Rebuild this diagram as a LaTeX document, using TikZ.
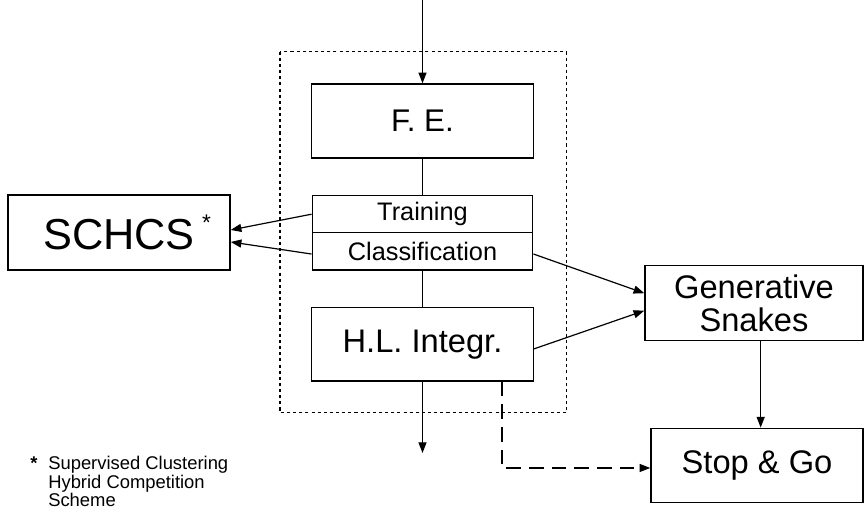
\documentclass[tikz,border=0pt]{standalone}
\usepackage{fontspec}
\setmainfont{Liberation Sans}
\usetikzlibrary{arrows.meta}
\tikzset{
  box/.style={draw, line width=1.1pt, inner sep=0pt, align=center},
  arr/.style={line width=0.9pt, -{Triangle[length=8pt,width=6pt]}},
  plain/.style={line width=0.9pt},
  dashline/.style={line width=0.9pt, dash pattern=on 11pt off 6pt, -{Triangle[length=8pt,width=6pt]}},
  dotbox/.style={line width=1.1pt, dash pattern=on 2.3pt off 2.3pt}
}
\begin{document}
\begin{tikzpicture}[x=0.75pt,y=-0.75pt]
\useasboundingbox (0,0) rectangle (864,511);
% dotted frame
\draw[dotbox] (280,51.7) rectangle (566.7,412.7);
% nodes
\node[box, minimum width=222*0.75pt, minimum height=75*0.75pt, font=\fontsize{32.5}{36}\selectfont] (schcs) at (119,232.5) {\hspace*{12pt}SCHCS\,\raisebox{0.43em}{\fontsize{17}{17}\selectfont *}};
\node[box, minimum width=221.6*0.75pt, minimum height=74*0.75pt, font=\fontsize{23.5}{27}\selectfont] (fe) at (422.5,121) {F. E.};
\node[box, minimum width=220.5*0.75pt, minimum height=37*0.75pt, font=\fontsize{19}{22}\selectfont] (tr) at (422.5,214.2) {Training};
\node[box, minimum width=220.5*0.75pt, minimum height=37.3*0.75pt, font=\fontsize{19}{22}\selectfont] (cl) at (422.5,251.35) {Classification};
\node[box, minimum width=221.6*0.75pt, minimum height=73.7*0.75pt, font=\fontsize{24.5}{28}\selectfont] (hl) at (422.5,344.2) {H.L. Integr.};
\node[box, minimum width=218*0.75pt, minimum height=75*0.75pt, font=\fontsize{24.5}{25}\selectfont] (gs) at (754,303.2) {Generative\\Snakes};
\node[box, minimum width=212*0.75pt, minimum height=74*0.75pt, font=\fontsize{24.5}{28}\selectfont] (sg) at (757,465.3) {Stop \& Go};
% footnote
\node[anchor=north west, inner sep=0pt, align=left, font=\fontsize{13.8}{12.6}\selectfont] (note) at (30,456) {\makebox[13.5pt][l]{\bfseries *}Supervised Clustering\\\hspace*{13.5pt}Hybrid Competition\\\hspace*{13.5pt}Scheme};
% coordinates
\coordinate (in) at (422.5,0);
\coordinate (out) at (422.5,453);
\coordinate (dd) at (502,0);
% connectors
\draw[arr] (in) -- (fe.north);
\draw[plain] (fe.south) -- (tr.north);
\draw[plain] (cl.south) -- (hl.north);
\draw[arr] (hl.south) -- (out);
\draw[arr] (tr.west) -- ([yshift=1.9pt]schcs.east);
\draw[arr] ([yshift=-2pt]cl.west) -- ([yshift=-7.1pt]schcs.east);
\draw[arr] ([yshift=-2pt]cl.east) -- ([yshift=7.5pt]gs.west);
\draw[arr] ([yshift=-3.5pt]hl.east) -- ([yshift=-5.6pt]gs.west);
\draw[arr] ([xshift=5pt]gs.south) -- ([xshift=5pt]gs.south |- sg.north);
\draw[dashline] (hl.south -| dd) |- ([yshift=-2pt]sg.west);
\end{tikzpicture}
\end{document}
